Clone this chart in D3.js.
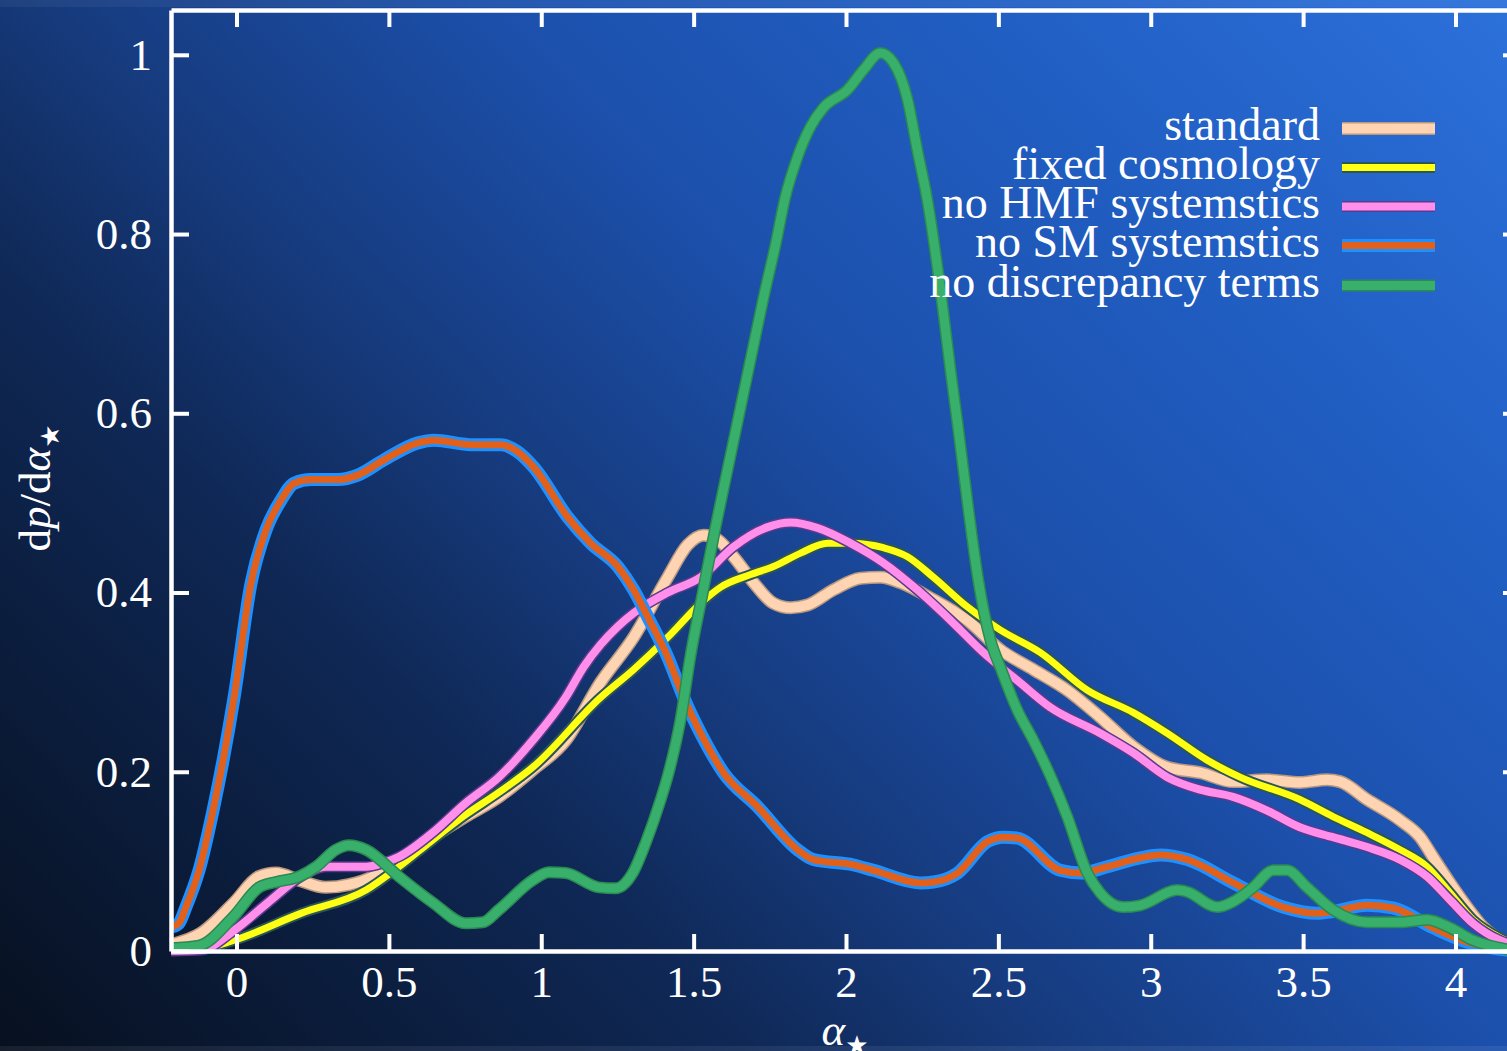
<!DOCTYPE html>
<html>
<head>
<meta charset="utf-8">
<script src="https://cdn.jsdelivr.net/npm/d3@7/dist/d3.min.js"></script>
<style>
  html, body { margin: 0; padding: 0; background: #0c1e44; }
  svg { display: block; }
  text { font-family: "Liberation Serif", "Times New Roman", serif; fill: #ffffff; }
</style>
</head>
<body>
<svg id="chart" width="1507" height="1051"></svg>
<script>
// ---- data (alpha_star, dp/dalpha_star) ----
const seriesNames = ["standard", "fixed cosmology", "no HMF systemstics", "no SM systemstics", "no discrepancy terms"];

const standard = [[-0.215,0.007],[-0.116,0.020],[-0.008,0.054],[0.074,0.083],[0.130,0.087],[0.205,0.079],[0.293,0.071],[0.369,0.074],[0.448,0.083],[0.533,0.102],[0.644,0.127],[0.752,0.150],[0.861,0.172],[0.972,0.202],[1.080,0.235],[1.195,0.300],[1.303,0.350],[1.415,0.417],[1.480,0.453],[1.533,0.464],[1.579,0.459],[1.631,0.440],[1.697,0.411],[1.762,0.388],[1.818,0.383],[1.874,0.386],[1.959,0.403],[2.048,0.416],[2.113,0.417],[2.179,0.411],[2.287,0.392],[2.398,0.369],[2.507,0.336],[2.615,0.314],[2.726,0.291],[2.834,0.261],[2.943,0.228],[3.054,0.205],[3.162,0.199],[3.270,0.189],[3.380,0.191],[3.489,0.188],[3.579,0.191],[3.621,0.189],[3.710,0.169],[3.818,0.146],[3.884,0.127],[3.926,0.105],[3.982,0.076],[4.038,0.049],[4.090,0.027],[4.169,0.009],[4.215,0.004]];

const fixedCosmology = [[-0.215,0.001],[-0.123,0.002],[-0.008,0.012],[0.211,0.042],[0.425,0.068],[0.533,0.094],[0.644,0.124],[0.752,0.152],[0.861,0.177],[0.972,0.205],[1.195,0.283],[1.303,0.314],[1.415,0.350],[1.523,0.388],[1.589,0.406],[1.687,0.420],[1.762,0.429],[1.851,0.444],[1.939,0.455],[2.015,0.455],[2.123,0.450],[2.202,0.440],[2.287,0.417],[2.398,0.384],[2.507,0.358],[2.638,0.333],[2.792,0.291],[2.943,0.266],[3.054,0.243],[3.185,0.213],[3.293,0.194],[3.489,0.169],[3.598,0.150],[3.710,0.132],[3.818,0.113],[3.907,0.094],[3.982,0.065],[4.057,0.035],[4.146,0.015],[4.215,0.006]];

const noHMF = [[-0.215,0.000],[-0.116,0.001],[-0.008,0.023],[0.103,0.054],[0.211,0.083],[0.293,0.094],[0.425,0.094],[0.480,0.098],[0.533,0.105],[0.644,0.132],[0.752,0.165],[0.861,0.194],[0.972,0.235],[1.080,0.283],[1.139,0.317],[1.195,0.342],[1.251,0.362],[1.303,0.377],[1.415,0.400],[1.523,0.417],[1.631,0.451],[1.743,0.473],[1.818,0.478],[1.907,0.472],[2.015,0.455],[2.123,0.433],[2.234,0.403],[2.343,0.369],[2.451,0.333],[2.562,0.302],[2.670,0.272],[2.834,0.243],[2.943,0.221],[3.054,0.194],[3.162,0.180],[3.270,0.172],[3.380,0.157],[3.489,0.138],[3.598,0.127],[3.710,0.116],[3.818,0.102],[3.907,0.083],[3.982,0.057],[4.057,0.031],[4.146,0.012],[4.215,0.005]];

const noSM = [[-0.211,0.027],[-0.189,0.031],[-0.166,0.049],[-0.123,0.090],[-0.077,0.157],[-0.044,0.213],[-0.008,0.283],[0.048,0.411],[0.097,0.470],[0.146,0.503],[0.189,0.522],[0.244,0.526],[0.333,0.526],[0.398,0.531],[0.484,0.548],[0.595,0.567],[0.648,0.570],[0.769,0.565],[0.867,0.565],[0.923,0.557],[0.975,0.540],[1.087,0.484],[1.162,0.455],[1.251,0.429],[1.303,0.403],[1.349,0.373],[1.415,0.328],[1.467,0.283],[1.523,0.243],[1.598,0.199],[1.710,0.161],[1.841,0.113],[1.893,0.102],[2.025,0.096],[2.090,0.090],[2.244,0.076],[2.287,0.077],[2.366,0.087],[2.464,0.122],[2.516,0.127],[2.562,0.126],[2.703,0.090],[2.769,0.087],[2.857,0.094],[2.966,0.104],[3.031,0.107],[3.120,0.102],[3.271,0.076],[3.434,0.049],[3.546,0.042],[3.598,0.044],[3.710,0.051],[3.795,0.048],[3.926,0.026],[4.038,0.010],[4.169,0.001],[4.215,0.000]];

const noDiscrepancy = [[-0.215,0.003],[-0.123,0.006],[-0.011,0.038],[0.074,0.071],[0.130,0.077],[0.205,0.083],[0.261,0.094],[0.326,0.113],[0.369,0.118],[0.425,0.113],[0.533,0.083],[0.644,0.054],[0.752,0.031],[0.808,0.032],[0.861,0.046],[0.972,0.079],[1.025,0.088],[1.080,0.087],[1.189,0.071],[1.244,0.070],[1.300,0.087],[1.343,0.121],[1.392,0.169],[1.418,0.199],[1.457,0.258],[1.490,0.330],[1.530,0.400],[1.570,0.470],[1.610,0.535],[1.650,0.600],[1.690,0.665],[1.730,0.730],[1.770,0.790],[1.800,0.840],[1.840,0.885],[1.884,0.920],[1.926,0.941],[2.005,0.961],[2.057,0.983],[2.113,1.002],[2.156,0.991],[2.202,0.950],[2.234,0.894],[2.267,0.838],[2.310,0.738],[2.343,0.648],[2.369,0.581],[2.402,0.492],[2.434,0.414],[2.474,0.347],[2.507,0.316],[2.562,0.269],[2.615,0.235],[2.670,0.196],[2.726,0.150],[2.792,0.087],[2.834,0.065],[2.910,0.049],[2.966,0.051],[3.087,0.068],[3.120,0.066],[3.218,0.049],[3.270,0.055],[3.336,0.071],[3.402,0.090],[3.447,0.090],[3.513,0.071],[3.598,0.046],[3.710,0.032],[3.818,0.032],[3.907,0.035],[3.982,0.026],[4.057,0.012],[4.169,0.002],[4.215,0.000]];

const xTicks = [0, 0.5, 1, 1.5, 2, 2.5, 3, 3.5, 4];
const xTickLabels = ["0", "0.5", "1", "1.5", "2", "2.5", "3", "3.5", "4"];
const yTicks = [0, 0.2, 0.4, 0.6, 0.8, 1];
const yTickLabels = ["0", "0.2", "0.4", "0.6", "0.8", "1"];

// ---- styles ----
const inner = ["#ffd4b2", "#ffff14", "#ff8fea", "#e0601c", "#38b06c"];
const outer = ["#b8987e", "#2c5656", "#5a3a8e", "#1e90ff", "#2a8a52"];
const innerW = [10, 7, 8, 7, 9];
const outerW = [13, 11, 11, 13, 12];

const svg = d3.select("#chart");
const W = 1507, H = 1051;

// background
const defs = svg.append("defs");
const grad = defs.append("linearGradient").attr("id", "bg")
  .attr("gradientUnits", "userSpaceOnUse")
  .attr("x1", 0).attr("y1", H).attr("x2", 1300).attr("y2", -200);
[[0, "#07101f"], [0.3, "#0f2856"], [0.42, "#163a7c"], [0.6, "#1c50ac"], [0.8, "#215fc4"], [1, "#2c70da"]]
  .forEach(([o, c]) => grad.append("stop").attr("offset", o).attr("stop-color", c));
svg.append("rect").attr("width", W).attr("height", H).attr("fill", "url(#bg)");
svg.append("rect").attr("x", 0).attr("y", 0).attr("width", W).attr("height", 7).attr("fill", "#ffffff").attr("opacity", 0.05);
svg.append("rect").attr("x", 0).attr("y", 1046).attr("width", W).attr("height", 5).attr("fill", "#ffffff").attr("opacity", 0.07);

const x = d3.scaleLinear().domain([-0.215, 4.215]).range([171, 1521]);
const y = d3.scaleLinear().domain([0, 1.05]).range([951, 10]);

// curves
const allSeries = [standard, fixedCosmology, noHMF, noSM, noDiscrepancy];
const line = d3.line().x(d => x(d[0])).y(d => y(d[1])).curve(d3.curveMonotoneX);
const plot = svg.append("g");
allSeries.forEach((s, i) => {
  plot.append("path").attr("d", line(s)).attr("fill", "none")
    .attr("stroke", outer[i]).attr("stroke-width", outerW[i]).attr("stroke-linejoin", "round").attr("stroke-linecap", "butt");
  plot.append("path").attr("d", line(s)).attr("fill", "none")
    .attr("stroke", inner[i]).attr("stroke-width", innerW[i]).attr("stroke-linejoin", "round").attr("stroke-linecap", "butt");
});

// axes
function styleAxis(g) {
  g.selectAll(".domain").attr("stroke", "#ffffff").attr("stroke-width", 4.5);
  g.selectAll(".tick line").attr("stroke", "#ffffff").attr("stroke-width", 4);
  g.selectAll(".tick text").attr("fill", "#ffffff")
    .style("font-family", "'Liberation Serif', serif").style("font-size", "45px");
}
const xFmt = d => xTickLabels[xTicks.indexOf(d)];
const yFmt = d => yTickLabels[yTicks.indexOf(d)];

svg.append("g").attr("transform", `translate(0,${y(0)})`)
  .call(d3.axisBottom(x).tickValues(xTicks).tickFormat(xFmt).tickSize(-17).tickSizeOuter(0).tickPadding(14))
  .call(styleAxis);
svg.append("g").attr("transform", `translate(0,${y(1.05)})`)
  .call(d3.axisTop(x).tickValues(xTicks).tickFormat("").tickSize(-17).tickSizeOuter(0))
  .call(styleAxis);
svg.append("g").attr("transform", `translate(${x(-0.215)},0)`)
  .call(d3.axisLeft(y).tickValues(yTicks).tickFormat(yFmt).tickSize(-18).tickSizeOuter(0).tickPadding(19))
  .call(styleAxis);
svg.append("g").attr("transform", `translate(${x(4.215)},0)`)
  .call(d3.axisRight(y).tickValues(yTicks).tickFormat("").tickSize(-18).tickSizeOuter(0))
  .call(styleAxis);

// axis labels
const xl = svg.append("text").attr("x", 845).attr("y", 1045).attr("text-anchor", "middle").style("font-size", "45px");
xl.append("tspan").style("font-style", "italic").text("α");
xl.append("tspan").attr("dy", 9).style("font-size", "26px").style("font-family", "'DejaVu Sans', sans-serif").text("★");

const yl = svg.append("text").attr("transform", "translate(50,488) rotate(-90)").attr("text-anchor", "middle").style("font-size", "45px");
yl.append("tspan").text("d");
yl.append("tspan").style("font-style", "italic").text("p");
yl.append("tspan").text("/d");
yl.append("tspan").style("font-style", "italic").text("α");
yl.append("tspan").attr("dy", 9).style("font-size", "26px").style("font-family", "'DejaVu Sans', sans-serif").text("★");

// legend
const legBase = [140, 179, 218, 257, 297];
seriesNames.forEach((name, i) => {
  svg.append("text").attr("x", 1320).attr("y", legBase[i]).attr("text-anchor", "end")
    .style("font-size", "46px").text(name);
  const ly = legBase[i] - 11.5;
  svg.append("line").attr("x1", 1342).attr("x2", 1435).attr("y1", ly).attr("y2", ly)
    .attr("stroke", outer[i]).attr("stroke-width", outerW[i]);
  svg.append("line").attr("x1", 1342).attr("x2", 1435).attr("y1", ly).attr("y2", ly)
    .attr("stroke", inner[i]).attr("stroke-width", innerW[i]);
});
</script>
</body>
</html>
